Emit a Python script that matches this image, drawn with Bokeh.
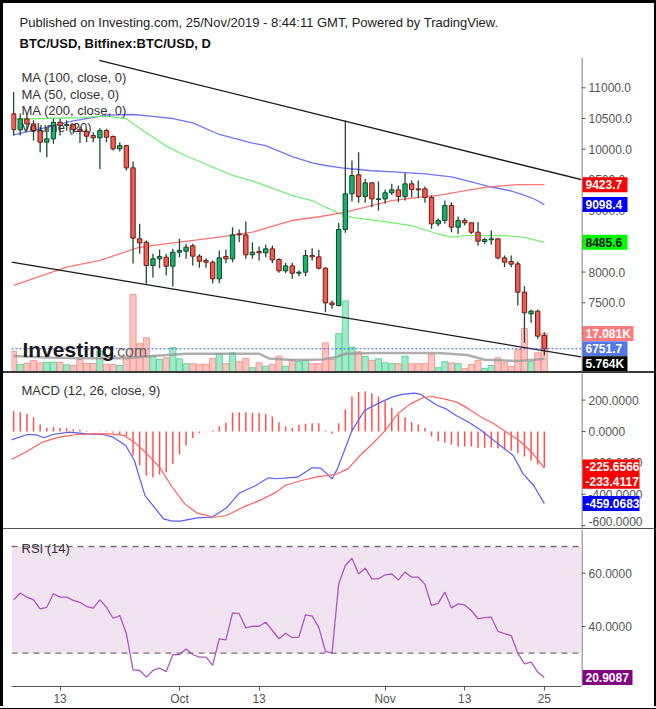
import numpy as np
import pandas as pd
from bokeh.plotting import figure
from bokeh.layouts import column, row
from bokeh.models import (Range1d, LinearAxis, FixedTicker, Label, Span, BoxAnnotation,
                          ColumnDataSource, Div)
from bokeh.core.properties import value
from bokeh.embed import file_html
from bokeh.resources import INLINE

FONT = "Liberation Sans"

# ---------------- data ----------------
dates = pd.date_range("2019-09-06", "2019-11-25", freq="D")

opens = [10576, 10316, 10494, 10413, 10305, 10115, 10169, 10440, 10386, 10400,
         10321, 10288, 10223, 10185, 10305, 10207, 10006, 10060, 9697, 8541,
         8487, 8107, 8216, 8243, 8096, 8324, 8340, 8427, 8259, 8188,
         8161, 7890, 8254, 8216, 8622, 8606, 8281, 8335, 8313, 8378,
         8205, 8020, 8101, 7982, 7998, 8270, 8248, 8064, 7499, 7456,
         8693, 9274, 9583, 9230, 9453, 9180, 9192, 9290, 9339, 9230,
         9436, 9355, 9355, 9214, 8785, 8840, 9084, 8731, 8840, 8802,
         8650, 8498, 8525, 8541, 8232, 8172, 8134, 7673, 7320, 7364,
         6967]
highs = [10930, 10580, 10576, 10470, 10360, 10359, 10495, 10495, 10470, 10420,
         10370, 10330, 10276, 10342, 10332, 10223, 10115, 10071, 9800, 8785,
         8515, 8300, 8367, 8297, 8378, 8541, 8460, 8460, 8290, 8226,
         8188, 8351, 8367, 8731, 8693, 8823, 8487, 8416, 8443, 8432,
         8226, 8150, 8150, 8026, 8362, 8389, 8362, 8080, 7537, 8800,
         10467, 9816, 9952, 9518, 9463, 9474, 9344, 9436, 9409, 9615,
         9490, 9490, 9393, 9246, 8878, 9165, 9138, 8905, 8878, 8812,
         8812, 8557, 8677, 8552, 8270, 8270, 8172, 7770, 7385, 7390,
         7022]
lows = [10225, 10225, 10305, 10142, 9952, 9870, 10088, 10223, 10300, 10250,
        10100, 10114, 10114, 9680, 10114, 9979, 9963, 9653, 8140, 8297,
        7809, 7910, 8064, 7944, 7765, 8243, 8216, 8107, 8069, 8069,
        7819, 7819, 8145, 8161, 8487, 8216, 8216, 8188, 8243, 8145,
        7988, 7982, 7890, 7933, 7933, 8188, 8042, 7347, 7402, 7440,
        8640, 9149, 9127, 9127, 9056, 9002, 9111, 9257, 9138, 9165,
        9219, 9203, 9127, 8704, 8747, 8785, 8650, 8622, 8758, 8622,
        8433, 8460, 8443, 8205, 8080, 8080, 7456, 6848, 7174, 6914,
        6642]
closes = [10320, 10494, 10413, 10305, 10115, 10169, 10440, 10386, 10400, 10321,
          10290, 10212, 10185, 10305, 10196, 10006, 10060, 9697, 8552, 8476,
          8107, 8216, 8254, 8096, 8324, 8351, 8405, 8259, 8177, 8161,
          7890, 8232, 8216, 8606, 8606, 8281, 8324, 8313, 8378, 8199,
          8020, 8101, 7982, 7998, 8270, 8248, 8064, 7499, 7467, 8693,
          9274, 9572, 9230, 9453, 9192, 9192, 9290, 9339, 9230, 9436,
          9344, 9339, 9214, 8785, 8840, 9084, 8731, 8840, 8802, 8650,
          8503, 8530, 8541, 8232, 8161, 8129, 7673, 7337, 7364, 6957,
          6751.7]
volume_k = [9.0, 3.2, 3.6, 5.0, 3.9, 4.2, 4.2, 4.2, 3.0, 2.7,
            5.4, 3.6, 3.6, 9.2, 3.2, 3.2, 2.7, 6.9, 34.7, 12.5,
            15.2, 7.0, 5.4, 6.2, 10.7, 5.7, 3.5, 3.5, 3.2, 3.2,
            5.9, 8.0, 3.5, 8.4, 4.4, 5.9, 1.7, 3.9, 2.4, 3.2,
            6.9, 2.4, 5.3, 4.4, 5.0, 3.5, 3.5, 12.9, 5.4, 17.0,
            31.8, 11.0, 8.9, 6.8, 5.0, 5.7, 3.9, 3.5, 3.5, 6.9,
            3.5, 3.5, 3.5, 7.7, 1.7, 4.4, 3.9, 3.5, 1.4, 3.2,
            5.0, 1.4, 2.7, 6.2, 3.9, 2.3, 9.9, 19.4, 4.4, 8.4,
            17.081]

# moving averages (at day positions)
ma100_x = [0, 4, 9, 14, 18, 21, 24, 27, 31, 36, 38, 42, 45, 47, 50, 54, 58, 62, 66, 69, 72, 75, 76.5, 78.5, 80]
ma100_v = [10235, 10330, 10460, 10555, 10565, 10535, 10500, 10430, 10240, 10100, 10060, 9880, 9778, 9735,
           9690, 9650, 9626, 9600, 9550, 9470, 9385, 9320, 9270, 9190, 9098.4]
ma50_x = [0, 5, 10, 14, 17, 19, 21, 23, 26, 28, 33, 36, 41, 42.5, 45, 47, 49, 51, 55, 60, 64, 66, 68, 74, 77, 80]
ma50_v = [10490, 10500, 10515, 10540, 10495, 10340, 10200, 10050, 9890, 9800, 9575, 9485, 9285, 9230,
          9165, 9056, 8960, 8890, 8835, 8755, 8620, 8570, 8595, 8595, 8565, 8485.6]
ma200_x = [0, 8, 13, 19, 25, 31, 36, 42, 46.3, 50, 57, 61.3, 64, 71, 76, 80]
ma200_v = [7782, 8080, 8190, 8406, 8487, 8570, 8650, 8840, 8905, 8975, 9165, 9219, 9250, 9380, 9425, 9423.7]
vol_ma_x = [0, 5, 10, 17, 19, 22, 26, 37, 38.5, 42, 46.5, 48.6, 50, 54.6, 64, 68.4, 71, 76, 78.5, 80]
vol_ma_k = [7.0, 6.3, 6.0, 6.0, 6.5, 7.2, 8.0, 8.0, 5.9, 5.2, 5.4, 6.5, 8.0, 8.3, 8.3, 7.4, 5.3, 4.7, 5.3, 5.764]

# channel lines (day position, price)
upper_x = [12.9, 85.6]
upper_p = [11446, 9505]
lower_x = [-0.32, 85.6]
lower_p = [8161, 6617]

# MACD (12, 26, close, 9)
macd_x = [-0.4, 2.1, 3.4, 4.6, 5.9, 8.4, 11, 13.5, 15, 16.9, 18.2, 19.8, 22.6, 23.9, 25.1, 27.7, 29.9, 32.1,
          34, 36.5, 38.4, 39.6, 42.8, 45, 46.3, 48, 48.8, 51, 52.9, 54.8, 57, 58.6, 60.4, 61.4, 62.3, 63.9,
          65.2, 66.7, 68.6, 70.5, 72.1, 73.7, 75.3, 76.8, 78.4, 80]
macd_v = [-53, -19, -21, -40, -19, -4, -15, -19, -36, -89, -185, -408, -556, -571, -571, -550, -546, -486,
          -393, -344, -295, -301, -291, -231, -233, -301, -238, 6, 134, 176, 219, 236, 244, 236, 208, 166,
          144, 102, 59, 6, -47, -100, -153, -270, -344, -459.0683]
signal_x = [-0.4, 1.8, 4.3, 6.9, 9.4, 11.9, 14.4, 16.6, 18.2, 20.1, 22, 23.9, 25.8, 27.7, 30.2, 32.1, 34.6,
            37.1, 39.6, 40.9, 43.4, 45.9, 48.5, 50.4, 52.2, 54.1, 56, 57.9, 59.8, 61.7, 63, 64.9, 66.8,
            68.6, 70.5, 72.4, 74.3, 76.2, 78.1, 80]
signal_v = [-180, -132, -68, -36, -19, -15, -15, -25, -68, -142, -227, -355, -461, -520, -546, -535, -482,
            -439, -386, -344, -312, -287, -274, -238, -153, -78, 6, 113, 176, 215, 223, 208, 187, 144, 91,
            49, -4, -57, -132, -233.4117]
hist_v = [129, 123, 112, 91, 44, 23, 28, 23, 21, 15,
          11, 4, 0, 2, -4, -8, -21, -30, -153, -216,
          -280, -291, -274, -259, -206, -146, -89, -42, -11, 2,
          6, 34, 55, 119, 123, 123, 119, 119, 112, 96,
          59, 32, 23, 42, 49, 53, 53, 6, -15, 53,
          140, 223, 251, 257, 244, 223, 193, 151, 108, 91,
          59, 44, 23, -32, -62, -72, -83, -96, -96, -96,
          -104, -104, -100, -106, -115, -121, -138, -159, -185, -210,
          -225.6566]

# RSI (14)
rsi_v = [50.0, 52.6, 51.0, 50.0, 46.6, 47.2, 52.3, 51.0, 51.0, 49.8,
         49.1, 47.5, 46.9, 50.0, 47.2, 43.1, 44.1, 37.3, 23.7, 23.5,
         21.0, 23.5, 24.4, 23.1, 29.4, 29.5, 31.6, 29.5, 28.5, 28.5,
         25.4, 35.4, 35.0, 45.1, 44.8, 39.5, 40.1, 40.1, 41.6, 38.5,
         35.4, 37.5, 35.8, 36.0, 44.4, 43.9, 39.7, 30.7, 30.1, 56.0,
         62.9, 65.6, 59.7, 61.9, 57.9, 57.9, 59.4, 59.7, 57.5, 60.4,
         58.5, 58.5, 55.8, 47.9, 48.7, 52.9, 47.0, 48.5, 48.1, 46.0,
         42.9, 43.3, 43.5, 38.2, 37.3, 36.6, 30.0, 26.0, 26.6, 22.9,
         20.9087]

price_ticks = [7000, 7500, 8000, 8500, 9000, 9500, 10000, 10500, 11000]
macd_ticks = [-600, -400, -200, 0, 200]
rsi_ticks = [20, 40, 60]
rsi_bands = [30, 70]

tick_dates = ["2019-09-13", "2019-10-01", "2019-10-13", "2019-11-01", "2019-11-13", "2019-11-25"]
tick_labels = ["13", "Oct", "13", "Nov", "13", "25"]

TITLE = "Published on Investing.com, 25/Nov/2019 - 8:44:11 GMT, Powered by TradingView."
SUBTITLE = "BTC/USD, Bitfinex:BTC/USD, D"

# ---------------- derived ----------------
n = len(dates)
xs = list(range(n))
up = [c >= o for o, c in zip(opens, closes)]
src = ColumnDataSource(dict(
    x=xs, high=highs, low=lows,
    top=[max(o, c) for o, c in zip(opens, closes)],
    bottom=[min(o, c) for o, c in zip(opens, closes)],
    fill=["#16b26b" if u else "#f45b4f" for u in up],
    line=["#0e4a2c" if u else "#6e1d18" for u in up],
    vol=volume_k,
    vfill=["#8fe6bf" if u else "#ffb8b5" for u in up],
    vline=["#5fd49f" if u else "#f59a95" for u in up],
))
tick_idx = [int(dates.get_loc(pd.Timestamp(d))) for d in tick_dates]

FRAME_W = 570
SIDE_W = 73
INNER_W = 8 + FRAME_W + SIDE_W
x_range = Range1d(-0.32, 85.6)


def clean(f):
    f.xgrid.visible = False
    f.ygrid.visible = False
    f.outline_line_color = None
    f.background_fill_color = "white"
    f.border_fill_color = "white"
    return f


def panel(h, yr, bottom=0):
    f = figure(frame_width=FRAME_W, frame_height=h, x_range=x_range, y_range=yr,
               output_backend="svg", toolbar_location=None,
               x_axis_location=None, y_axis_location=None,
               min_border_left=8, min_border_right=0, min_border_top=0, min_border_bottom=bottom)
    return clean(f)


def side(h, yr, bottom=0):
    f = figure(frame_width=SIDE_W, frame_height=h, x_range=Range1d(0, SIDE_W), y_range=yr,
               output_backend="svg", toolbar_location=None,
               x_axis_location=None, y_axis_location=None,
               min_border_left=0, min_border_right=0, min_border_top=0, min_border_bottom=bottom)
    clean(f)
    f.add_layout(Span(location=0.5, dimension="height", line_color="#555555", line_width=1))
    return f


def side_ticks(f, ticks, fmt, h_px):
    yr = f.y_range
    pad = 7.5 * (yr.end - yr.start) / h_px          # keep labels inside the panel
    label_y = [min(max(t, yr.start + pad), yr.end - pad) for t in ticks]
    f.segment(x0=[0] * len(ticks), y0=ticks, x1=[4] * len(ticks), y1=ticks,
              line_color="#555555", line_width=1)
    f.text(x=[7] * len(ticks), y=label_y, text=[fmt.format(t) for t in ticks],
           text_font=value(FONT), text_font_size="12px", text_color="#555555",
           text_baseline="middle", text_align="left")


def tag(f, y, t, bg, w, fg="white", rng="default", dy_px=0, h_px=None, span=None):
    yy = y
    if dy_px:
        yy = y - dy_px * span / h_px
    f.rect(x=[1 + w / 2], y=[yy], width=[w], height=[15], height_units="screen",
           fill_color=bg, line_color=None, y_range_name=rng)
    f.text(x=[4], y=[yy], text=[t], text_font=value(FONT), text_font_size="12px",
           text_font_style="bold", text_color=fg, text_baseline="middle", text_align="left",
           y_range_name=rng)


def text(f, sx, sy, t, size="13px", color="#333333", style="normal"):
    f.add_layout(Label(x=sx, y=sy, x_units="screen", y_units="screen", text=t,
                       text_font=FONT, text_font_size=size, text_color=color,
                       text_font_style=style, text_baseline="middle", text_align="left"))


# ---------------- title strip ----------------
tf = figure(frame_width=INNER_W, frame_height=54, x_range=Range1d(0, INNER_W), y_range=Range1d(0, 54),
            output_backend="svg", toolbar_location=None, x_axis_location=None, y_axis_location=None,
            min_border=0)
clean(tf)
text(tf, 16, 35.5, TITLE, size="13px", color="#222222")
text(tf, 16, 13.7, SUBTITLE, size="13px", color="#111111", style="bold")

# ---------------- price panel ----------------
PH = 314
price_range = Range1d(6381.7, 11493.2)
vol_range = Range1d(0, PH / 2.22)
pp = panel(PH, price_range)
pp.extra_y_ranges = {"vol": vol_range}
ps = side(PH, price_range)
ps.extra_y_ranges = {"vol": vol_range}
side_ticks(ps, price_ticks, "{:.1f}", PH)

pp.vbar(x="x", width=0.92, top="vol", bottom=0, source=src, y_range_name="vol",
        fill_color="vfill", line_color="vline", fill_alpha=0.85, line_width=1)
pp.line(vol_ma_x, vol_ma_k, y_range_name="vol", line_color="#9a9a9a", line_width=2.5, line_alpha=0.8)

pp.line(ma100_x, ma100_v, line_color="#6464ff", line_width=1.3, line_alpha=0.9)
pp.line(ma50_x, ma50_v, line_color="#66ee66", line_width=1.3, line_alpha=0.9)
pp.line(ma200_x, ma200_v, line_color="#ff6666", line_width=1.3, line_alpha=0.9)

pp.segment(x0="x", y0="low", x1="x", y1="high", source=src, line_color="#1f4a33", line_width=1.3)
pp.vbar(x="x", width=0.66, top="top", bottom="bottom", source=src,
        fill_color="fill", line_color="line", line_width=1)

pp.line(upper_x, upper_p, line_color="#1a1a1a", line_width=1.3)
pp.line(lower_x, lower_p, line_color="#1a1a1a", line_width=1.3)
pp.add_layout(Span(location=closes[-1], dimension="width", line_color="#3a5ad8",
                   line_dash="2 2", line_width=1))

text(pp, 10, 294, "MA (100, close, 0)")
text(pp, 10, 277.5, "MA (50, close, 0)")
text(pp, 10, 261, "MA (200, close, 0)")
text(pp, 10, 244.5, "Volume (20)")
text(pp, 11, 22, "Investing", size="21px", color="#1a1a1a", style="bold")
text(pp, 101, 20, ".com", size="16px", color="#666666")

tag(ps, ma200_v[-1], f"{ma200_v[-1]:.1f}", "#ff0000", 45)
tag(ps, ma100_v[-1], f"{ma100_v[-1]:.1f}", "#0000ff", 45)
tag(ps, ma50_v[-1], f"{ma50_v[-1]:.1f}", "#00ff00", 45, fg="#111111")
tag(ps, volume_k[-1], f"{volume_k[-1]:.3f}K", "#ff7a7a", 51, rng="vol")
tag(ps, closes[-1], f"{closes[-1]:.1f}", "#5577e6", 45)
tag(ps, vol_ma_k[-1], f"{vol_ma_k[-1]:.3f}K", "#000000", 45, rng="vol",
    dy_px=5, h_px=PH, span=vol_range.end - vol_range.start)

# ---------------- MACD panel ----------------
MH = 155
macd_range = Range1d(-617.8, 369.4)
mp = panel(MH, macd_range)
ms = side(MH, macd_range)
side_ticks(ms, macd_ticks, "{:.4f}", MH)
mp.segment(x0=xs, y0=[0] * n, x1=xs, y1=hist_v, line_color="#ff5050", line_width=1.5)
mp.line(macd_x, macd_v, line_color="#5a5aff", line_width=1.2)
mp.line(signal_x, signal_v, line_color="#ff6060", line_width=1.2)
text(mp, 10, 138, "MACD (12, 26, close, 9)")
tag(ms, hist_v[-1], f"{hist_v[-1]:.4f}", "#ff0000", 57)
tag(ms, signal_v[-1], f"{signal_v[-1]:.4f}", "#ff0000", 57,
    dy_px=13, h_px=MH, span=macd_range.end - macd_range.start)
tag(ms, macd_v[-1], f"{macd_v[-1]:.4f}", "#0000ff", 57)

# ---------------- RSI panel ----------------
RH = 157
rsi_range = Range1d(17.49, 76.40)
rp = panel(RH, rsi_range, bottom=20)
rs = side(RH, rsi_range, bottom=20)
side_ticks(rs, rsi_ticks, "{:.4f}", RH)
rp.add_layout(BoxAnnotation(bottom=rsi_bands[0], top=rsi_bands[1], fill_color="#f1e4f1",
                            fill_alpha=1.0, line_color=None, level="underlay"))
for b in rsi_bands:
    rp.add_layout(Span(location=b, dimension="width", line_color="#7a6e7a",
                       line_dash="6 5", line_width=1.4))
rp.line(xs, rsi_v, line_color="#b153c2", line_width=1.3)
text(rp, 10, 138, "RSI (14)")
tag(rs, rsi_v[-1], f"{rsi_v[-1]:.4f}", "#800080", 50)

xa = LinearAxis(ticker=FixedTicker(ticks=tick_idx),
                major_label_overrides={i: t for i, t in zip(tick_idx, tick_labels)})
xa.axis_line_color = "#555555"
xa.major_tick_line_color = "#555555"
xa.major_tick_out = 4
xa.major_tick_in = 0
xa.minor_tick_line_color = None
xa.major_label_text_font = FONT
xa.major_label_text_font_size = "12px"
xa.major_label_text_color = "#555555"
xa.major_label_standoff = 1
rp.add_layout(xa, "below")


def bar(w, h, color):
    return Div(text="", width=w, height=h, margin=0, styles={"background-color": color})


inner = column(tf, row(pp, ps, spacing=0), bar(INNER_W, 2, "#3a3a3a"),
               row(mp, ms, spacing=0), bar(INNER_W, 1, "#555555"),
               row(rp, rs, spacing=0), spacing=0)
INNER_H = 54 + PH + 2 + MH + 1 + RH + 20
layout = column(bar(656, 3, "#000000"),
                row(bar(3, INNER_H, "#000000"), inner, bar(2, INNER_H, "#000000"), spacing=0),
                bar(656, 3, "#000000"), spacing=0)
open("out.html", "w").write(file_html(layout, INLINE))
